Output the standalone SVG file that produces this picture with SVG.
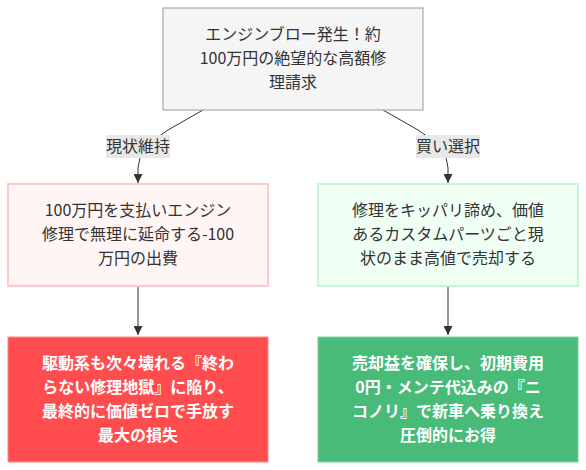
<svg xmlns="http://www.w3.org/2000/svg" width="586" height="470" viewBox="0 0 586 470">
<style>
text{font-family:"Noto Sans CJK JP","Noto Sans",sans-serif;font-size:16px;text-anchor:middle}
.dark{fill:#333}
.white{fill:#fff;font-weight:bold}
.edge{fill:none;stroke:#333;stroke-width:1}
.lbl{fill:#e8e8e8}
</style>
<defs>
<marker id="arr" viewBox="0 0 10 10" refX="10" refY="5" markerWidth="9" markerHeight="9" markerUnits="userSpaceOnUse" orient="auto">
<path d="M0,0 L10,5 L0,10 z" fill="#333"/>
</marker>
</defs>
<rect width="586" height="470" fill="#fff"/>
<g id="connectors">
<path class="edge" d="M203,110 L168,130 Q138,148 138,168 L138,183" marker-end="url(#arr)"/>
<path class="edge" d="M383,110 L418,130 Q448,148 448,168 L448,183" marker-end="url(#arr)"/>
<path class="edge" d="M138,286 L138,335" marker-end="url(#arr)"/>
<path class="edge" d="M448,286 L448,335" marker-end="url(#arr)"/>
<g id="label-left">
<rect class="lbl" x="106" y="135" width="64" height="23"/>
<text class="dark" x="138" y="152">現状維持</text>
</g>
<g id="label-right">
<rect class="lbl" x="416" y="135" width="64" height="23"/>
<text class="dark" x="448" y="152">買い選択</text>
</g>
</g>
<g id="start">
<rect x="163" y="8" width="260" height="102" fill="#f5f5f5" stroke="#999" stroke-width="1"/>
<text class="dark" x="293" y="40">エンジンブロー発生！約</text>
<text class="dark" x="293" y="64">100万円の絶望的な高額修</text>
<text class="dark" x="293" y="88">理請求</text>
</g>
<g id="keep">
<rect x="8" y="184" width="260" height="102" fill="#fff5f5" stroke="#ffc9c9" stroke-width="2"/>
<text class="dark" x="138" y="216">100万円を支払いエンジン</text>
<text class="dark" x="138" y="240">修理で無理に延命する-100</text>
<text class="dark" x="138" y="264">万円の出費</text>
</g>
<g id="sell">
<rect x="318" y="184" width="260" height="102" fill="#f0fff4" stroke="#c6f6d5" stroke-width="2"/>
<text class="dark" x="448" y="216">修理をキッパリ諦め、価値</text>
<text class="dark" x="448" y="240">あるカスタムパーツごと現</text>
<text class="dark" x="448" y="264">状のまま高値で売却する</text>
</g>
<g id="loss">
<rect x="8" y="337" width="260" height="125" fill="#ff4d4f" stroke="#ff8a8a" stroke-width="1"/>
<text class="white" x="138" y="369">駆動系も次々壊れる『終わ</text>
<text class="white" x="138" y="393">らない修理地獄』に陥り、</text>
<text class="white" x="138" y="417">最終的に価値ゼロで手放す</text>
<text class="white" x="138" y="441">最大の損失</text>
</g>
<g id="gain">
<rect x="318" y="337" width="260" height="125" fill="#48bb78" stroke="#7fd3a0" stroke-width="1"/>
<text class="white" x="448" y="369">売却益を確保し、初期費用</text>
<text class="white" x="448" y="393">0円・メンテ代込みの『ニ</text>
<text class="white" x="448" y="417">コノリ』で新車へ乗り換え</text>
<text class="white" x="448" y="441">圧倒的にお得</text>
</g>
</svg>
